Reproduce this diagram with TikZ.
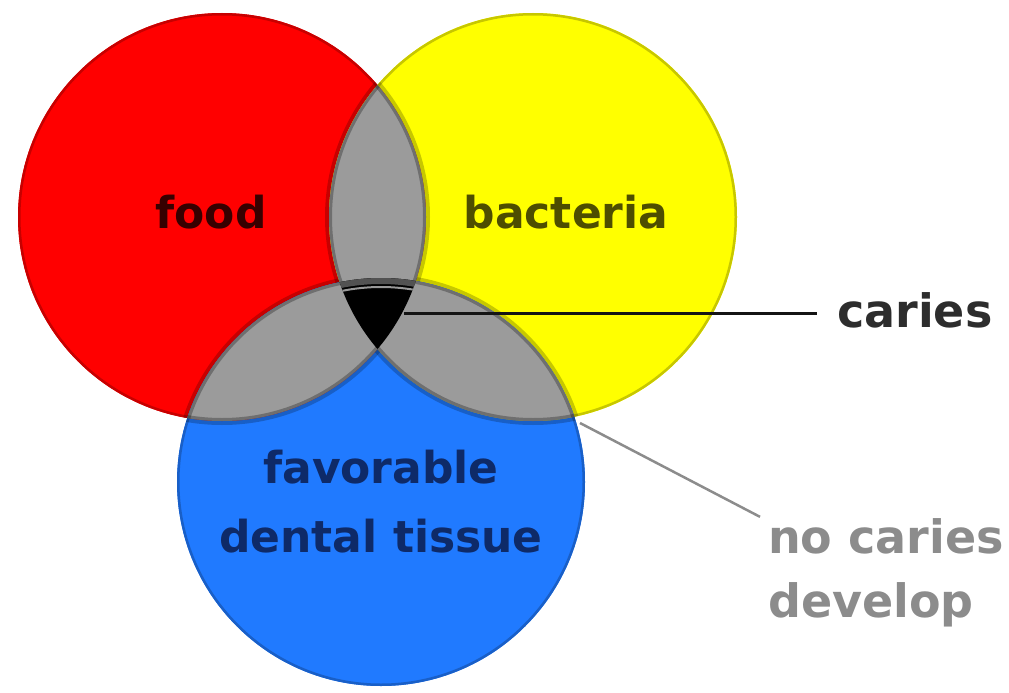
\documentclass[tikz,border=0pt]{standalone}
\usepackage{fontspec}
\setmainfont{DejaVu Sans}
\definecolor{vred}{RGB}{255,0,0}
\definecolor{vyellow}{RGB}{255,255,0}
\definecolor{vblue}{RGB}{32,122,255}
\definecolor{vgray}{RGB}{155,155,155}
\definecolor{foodtxt}{RGB}{55,0,0}
\definecolor{bacttxt}{RGB}{78,78,0}
\definecolor{tissuetxt}{RGB}{14,42,104}
\definecolor{cariestxt}{RGB}{45,45,45}
\definecolor{noctxt}{RGB}{140,140,140}
\begin{document}
\begin{tikzpicture}[x=1pt,y=-1pt,
  inlabel/.style={font=\bfseries\fontsize{44}{69}\selectfont, inner sep=0pt},
  outlabel/.style={font=\bfseries\fontsize{46}{64}\selectfont},
  shadowline/.style={black, opacity=0.22, line width=8pt},
  lensedge/.style={black, opacity=0.28, line width=6pt},
  leader/.style={line width=3pt, black!92},
  leadergray/.style={line width=2.5pt, black!45}]
\useasboundingbox (0,0) rectangle (1009,693);
\def\R{204pt}
\coordinate (cr) at (222,217);
\coordinate (cy) at (533,217);
\coordinate (cb) at (381,482);
% base discs
\fill[vred] (cr) circle[radius=\R];
\fill[vyellow] (cy) circle[radius=\R];
\fill[vblue] (cb) circle[radius=\R];
% rims (inner half) and soft shadows along the other circles
\begin{scope}\clip (cr) circle[radius=\R];
  \draw[vred!78!black, line width=5pt] (cr) circle[radius=\R];
  \draw[shadowline] (cy) circle[radius=\R];
  \draw[shadowline] (cb) circle[radius=\R];
\end{scope}
\begin{scope}\clip (cy) circle[radius=\R];
  \draw[vyellow!78!black, line width=5pt] (cy) circle[radius=\R];
  \draw[shadowline] (cr) circle[radius=\R];
  \draw[shadowline] (cb) circle[radius=\R];
\end{scope}
\begin{scope}\clip (cb) circle[radius=\R];
  \draw[vblue!78!black, line width=5pt] (cb) circle[radius=\R];
  \draw[shadowline] (cr) circle[radius=\R];
  \draw[shadowline] (cy) circle[radius=\R];
\end{scope}
% grey lenses
\begin{scope}\clip (cr) circle[radius=\R];\clip (cy) circle[radius=\R];
  \fill[vgray] (0,0) rectangle (1009,693);
  \draw[lensedge] (cr) circle[radius=\R];
  \draw[lensedge] (cy) circle[radius=\R];
\end{scope}
\begin{scope}\clip (cr) circle[radius=\R];\clip (cb) circle[radius=\R];
  \fill[vgray] (0,0) rectangle (1009,693);
  \draw[lensedge] (cr) circle[radius=\R];
  \draw[lensedge] (cb) circle[radius=\R];
\end{scope}
\begin{scope}\clip (cy) circle[radius=\R];\clip (cb) circle[radius=\R];
  \fill[vgray] (0,0) rectangle (1009,693);
  \draw[lensedge] (cy) circle[radius=\R];
  \draw[lensedge] (cb) circle[radius=\R];
\end{scope}
% triple intersection
\begin{scope}\clip (cr) circle[radius=\R];\clip (cy) circle[radius=\R];\clip (cb) circle[radius=\R];
  \fill[black] (0,0) rectangle (1009,693);
  \draw[black!68, line width=12pt] (cb) circle[radius=\R];
  \draw[black!40, line width=2pt] (cb) circle[radius=195pt];
\end{scope}
% labels
\node[inlabel, text=foodtxt, anchor=base] (food) at (211,228) {food};
\node[inlabel, text=bacttxt, anchor=base] (bact) at (566,228) {bacteria};
\node[inlabel, text=tissuetxt, align=center, anchor=base] (tissue) at (381,552) {favorable\\dental tissue};
\node[outlabel, text=cariestxt, anchor=base west, inner xsep=20pt, inner ysep=0pt] (caries) at (817,327) {caries};
\node[outlabel, text=noctxt, align=left, anchor=base west, inner xsep=8pt, inner ysep=1pt] (nocaries) at (760,617) {no caries\\develop};
% leaders
\coordinate (cariespt) at (404,313);
\coordinate (nocpt) at (580,423);
\draw[leader] (cariespt) -- (cariespt -| caries.west);
\draw[leadergray] (nocpt) -- (nocaries.north west);
\end{tikzpicture}
\end{document}
